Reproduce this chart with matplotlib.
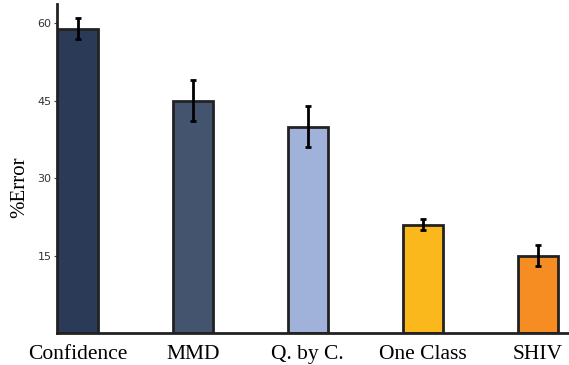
import numpy as np
import matplotlib.pyplot as plt

methods = ['Confidence', 'MMD', 'Q. by C.', 'One Class', 'SHIV']
error = [59, 45, 40, 21, 15]
err_low = [57, 41, 36, 20, 13]
err_high = [61, 49, 44, 22, 17]
colors = ['#2b3a57', '#44546f', '#a0b2d9', '#fbb81c', '#f68d22']
yticks = [15, 30, 45, 60]

fig = plt.figure(figsize=(5.69, 3.65), dpi=100)
ax = fig.add_axes([0.1, 0.088, 0.9, 0.9])

x = np.arange(len(methods))
error = np.array(error)
yerr = [error - np.array(err_low), np.array(err_high) - error]
ax.bar(x, error, width=0.35, color=colors, edgecolor='#222222', linewidth=2, zorder=2)
ax.errorbar(x, error, yerr=yerr, fmt='none', ecolor='black', elinewidth=2,
            capsize=2.5, capthick=2, zorder=3)

ax.set_xlim(-0.18, 4.27)
ax.set_ylim(0, 63.7)
ax.set_xticks(x)
ax.set_xticklabels(methods, family='Liberation Serif', fontsize=15.5)
ax.set_yticks(yticks)
ax.set_yticklabels([str(t) for t in yticks], fontsize=8, color='#333333')
ax.tick_params(axis='x', direction='in', length=3, color='#444444', pad=9)
ax.tick_params(axis='y', direction='out', length=2, color='#444444', pad=2)
ax.set_ylabel('%Error', family='Liberation Serif', fontsize=15, labelpad=6, y=0.445)

for s in ['top', 'right']:
    ax.spines[s].set_visible(False)
for s in ['left', 'bottom']:
    ax.spines[s].set_linewidth(2)
    ax.spines[s].set_color('#222222')

fig.savefig('out.png', dpi=100)
